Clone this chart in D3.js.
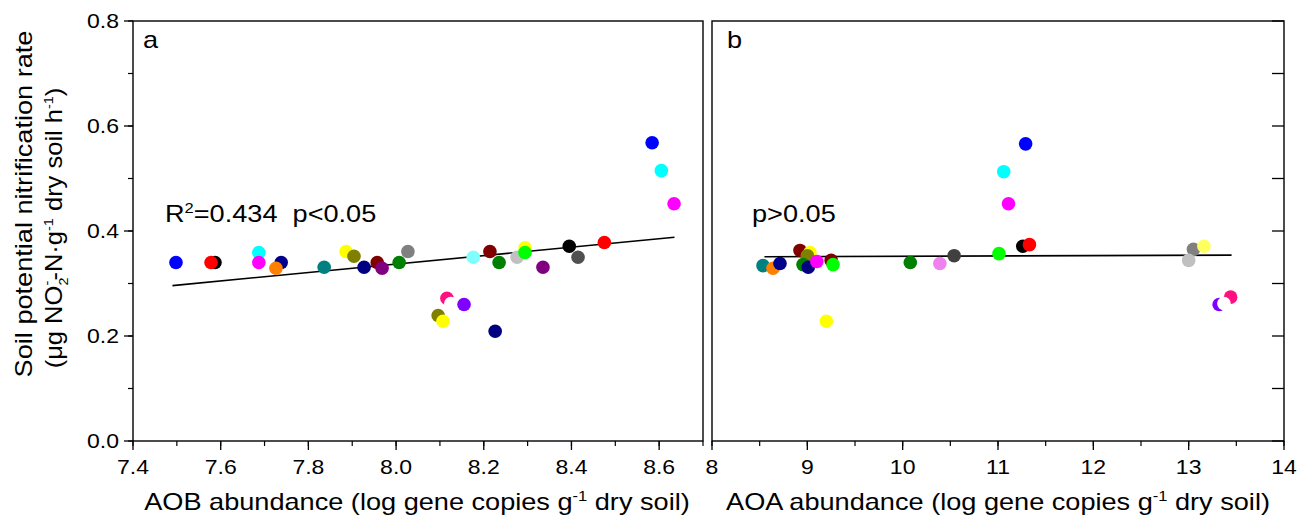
<!DOCTYPE html>
<html>
<head>
<meta charset="utf-8">
<script src="https://cdn.jsdelivr.net/npm/d3@7"></script>
<style>
  body { margin: 0; background: #fff; }
  svg { font-family: Arial, "Liberation Sans", sans-serif; }
</style>
</head>
<body>
<div id="chart"></div>
<script>
// panel a: AOB abundance vs nitrification rate
var aobX = [7.498, 7.587, 7.578, 7.687, 7.687, 7.738, 7.726, 7.836, 7.886, 7.904, 7.927, 7.957, 7.968, 8.007, 8.027,
  8.176, 8.214, 8.235, 8.276, 8.294, 8.294, 8.395, 8.415, 8.335, 8.475, 8.116, 8.125, 8.155, 8.096, 8.107, 8.226,
  8.584, 8.605, 8.634];
var aobY = [0.340, 0.340, 0.340, 0.359, 0.340, 0.340, 0.329, 0.331, 0.361, 0.352, 0.331, 0.340, 0.329, 0.340, 0.361,
  0.350, 0.361, 0.340, 0.350, 0.368, 0.359, 0.371, 0.350, 0.331, 0.378, 0.272, 0.262, 0.260, 0.239, 0.228, 0.209,
  0.568, 0.515, 0.452];
var aobColor = ['#0000ff', '#000000', '#ff0000', '#00ffff', '#ff00ff', '#00008b', '#ff8000', '#008080', '#ffff00', '#808000', '#000080', '#800000', '#800080', '#008000', '#808080',
  '#80ffff', '#800000', '#008000', '#c0c0c0', '#ffff00', '#00ff00', '#000000', '#505050', '#800080', '#ff0000', '#ff1080', '#ffffff', '#8000ff', '#808000', '#ffff00', '#000080',
  '#0000ff', '#00ffff', '#ff00ff'];
var aobFit = [[7.49, 0.296], [8.635, 0.388]];

// panel b: AOA abundance vs nitrification rate
var aoaX = [8.535, 8.64, 8.713, 8.923, 9.028, 9.0, 8.955, 9.01, 9.10, 9.25, 9.27, 9.2, 10.08, 10.39, 10.54, 11.01,
  11.29, 11.06, 11.11, 11.26, 11.33, 13.05, 13.0, 13.16, 13.44, 13.32, 13.37];
var aoaY = [0.334, 0.329, 0.338, 0.363, 0.359, 0.353, 0.336, 0.331, 0.342, 0.344, 0.336, 0.228, 0.340, 0.338, 0.353, 0.357,
  0.566, 0.513, 0.452, 0.371, 0.374, 0.365, 0.344, 0.371, 0.274, 0.260, 0.262];
var aoaColor = ['#008080', '#ff8000', '#00008b', '#800000', '#ffff00', '#808000', '#008000', '#000080', '#ff00ff', '#800000', '#00ff00', '#ffff00', '#008000', '#ee82ee', '#404040', '#00ff00',
  '#0000ff', '#00ffff', '#ff00ff', '#000000', '#ff0000', '#808080', '#c0c0c0', '#ffff60', '#ff1080', '#8000ff', '#ffffff'];
var aoaFit = [[8.55, 0.351], [13.45, 0.354]];

var yTicks = [0.0, 0.2, 0.4, 0.6, 0.8];
var xTicksA = [7.4, 7.6, 7.8, 8.0, 8.2, 8.4, 8.6];
var xTicksB = [8, 9, 10, 11, 12, 13, 14];

var width = 1309, height = 518;
var STRETCH = 1.18; // the text in the figure is drawn wide
var svg = d3.select('#chart').append('svg')
  .attr('width', width)
  .attr('height', height);

var y = d3.scaleLinear().domain([0, 0.8]).range([441, 21]);
var xa = d3.scaleLinear().domain([7.4, 8.7]).range([133, 703]);
var xb = d3.scaleLinear().domain([8, 14]).range([712, 1284]);

// wide text helper
function wtext(parent, x, yy, size, anchor, stretch) {
  return parent.append('text')
    .attr('transform', 'translate(' + x + ',' + yy + ') scale(' + (stretch || STRETCH) + ',1)')
    .attr('text-anchor', anchor || 'start')
    .attr('font-size', size + 'px')
    .style('white-space', 'pre');
}

function drawPanel(x, xs, ys, cols, fit, ticks, minorStep, label, labelX, note, noteX) {
  var g = svg.append('g');
  var x0 = x.range()[0], x1 = x.range()[1];

  // frame
  g.append('rect')
    .attr('x', x0).attr('y', y(0.8))
    .attr('width', x1 - x0).attr('height', y(0) - y(0.8))
    .attr('fill', 'none').attr('stroke', '#000').attr('stroke-width', 1.4);

  // x axis: major + minor ticks pointing down
  var d = x.domain();
  var minor = d3.range(d[0], d[1] + 1e-9, minorStep);
  g.selectAll('.mx').data(minor).enter().append('line')
    .attr('x1', function(v) { return x(v); }).attr('x2', function(v) { return x(v); })
    .attr('y1', y(0)).attr('y2', y(0) + 5)
    .attr('stroke', '#000').attr('stroke-width', 1.2);
  g.selectAll('.tx').data(ticks).enter().append('line')
    .attr('x1', function(v) { return x(v); }).attr('x2', function(v) { return x(v); })
    .attr('y1', y(0)).attr('y2', y(0) + 9)
    .attr('stroke', '#000').attr('stroke-width', 1.3);
  ticks.forEach(function(v) {
    wtext(g, x(v), 474, 19.5, 'middle').text(minorStep < 0.5 ? v.toFixed(1) : v);
  });

  // fit line
  g.append('line')
    .attr('x1', x(fit[0][0])).attr('y1', y(fit[0][1]))
    .attr('x2', x(fit[1][0])).attr('y2', y(fit[1][1]))
    .attr('stroke', '#000').attr('stroke-width', 1.6);

  // points
  g.selectAll('circle').data(xs).enter().append('circle')
    .attr('cx', function(v) { return x(v); })
    .attr('cy', function(v, i) { return y(ys[i]); })
    .attr('r', 6.8)
    .attr('fill', function(v, i) { return cols[i]; });

  wtext(g, labelX, 48, 23).text(label);
  wtext(g, noteX, 222, 23).html(note);
  return g;
}

drawPanel(xa, aobX, aobY, aobColor, aobFit, xTicksA, 0.1, 'a', 143,
  'R<tspan dy="-9" font-size="14px">2</tspan><tspan dy="9">=0.434  p&lt;0.05</tspan>', 165);
drawPanel(xb, aoaX, aoaY, aoaColor, aoaFit, xTicksB, 0.5, 'b', 727, 'p&gt;0.05', 752);

// left y axis (panel a), ticks outward
var yMinor = d3.range(0, 0.81, 0.1);
svg.selectAll('.my').data(yMinor).enter().append('line')
  .attr('x1', 128).attr('x2', 133)
  .attr('y1', function(v) { return y(v); }).attr('y2', function(v) { return y(v); })
  .attr('stroke', '#000').attr('stroke-width', 1.2);
svg.selectAll('.ty').data(yTicks).enter().append('line')
  .attr('x1', 124).attr('x2', 133)
  .attr('y1', function(v) { return y(v); }).attr('y2', function(v) { return y(v); })
  .attr('stroke', '#000').attr('stroke-width', 1.3);
yTicks.forEach(function(v) {
  wtext(svg, 119, y(v) + 7, 19.5, 'end').text(v.toFixed(1));
});

// right axis of panel b, ticks inward
svg.selectAll('.ry').data(yMinor).enter().append('line')
  .attr('x1', 1272).attr('x2', 1284)
  .attr('y1', function(v) { return y(v); }).attr('y2', function(v) { return y(v); })
  .attr('stroke', '#000').attr('stroke-width', 1.3);

// axis titles
wtext(svg, 417, 510, 23, 'middle')
  .html('AOB abundance (log gene copies g<tspan dy="-9" font-size="14px">-1</tspan><tspan dy="9"> dry soil)</tspan>');
wtext(svg, 998, 510, 23, 'middle')
  .html('AOA abundance (log gene copies g<tspan dy="-9" font-size="14px">-1</tspan><tspan dy="9"> dry soil)</tspan>');

var yt = svg.append('g').attr('transform', 'rotate(-90)');
wtext(yt, -204, 32, 23, 'middle')
  .text('Soil potential nitrification rate');
wtext(yt, -228, 62, 23, 'middle', 1.11)
  .html('(μg NO<tspan dy="6" font-size="13px">2</tspan><tspan dx="-7" dy="-17" font-size="13px">-</tspan><tspan dy="11">-N·g</tspan><tspan dy="-9" font-size="13px">-1</tspan><tspan dy="9"> dry soil h</tspan><tspan dy="-9" font-size="13px">-1</tspan><tspan dy="9">)</tspan>');
</script>
</body>
</html>
